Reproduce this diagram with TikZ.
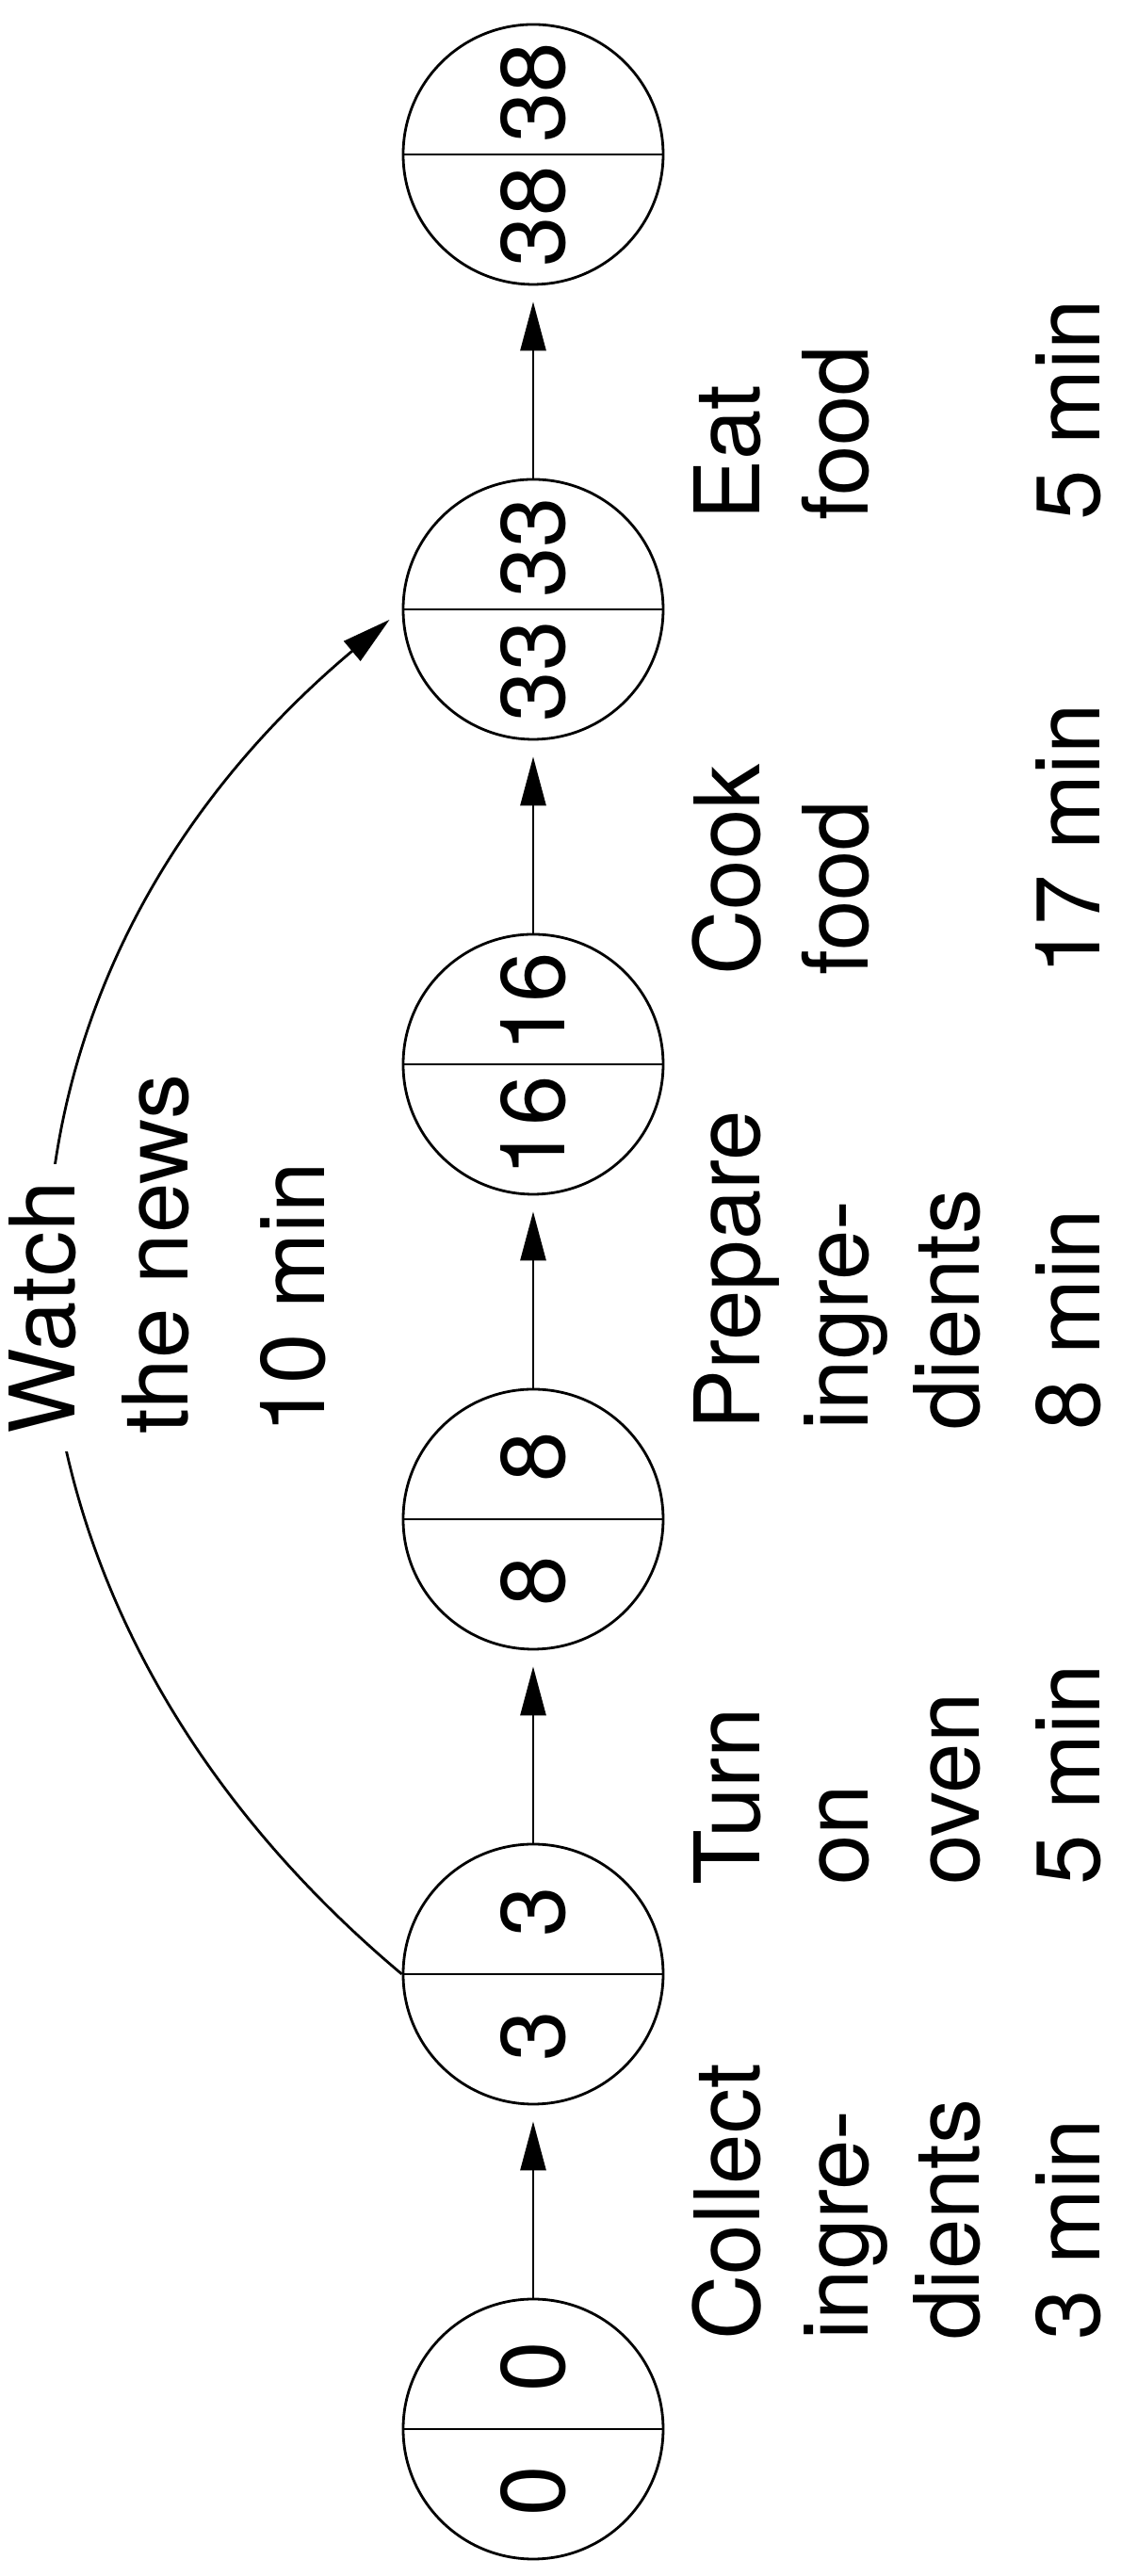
\documentclass[tikz,border=0pt]{standalone}
\usepackage{fontspec}
\setmainfont{TeX Gyre Heros}
\usetikzlibrary{arrows.meta,positioning}
\newcommand{\evt}[2]{\makebox[66pt]{\makebox[0pt]{#1}\hfill\makebox[0pt]{#2}}}

\begin{document}
\begin{tikzpicture}[rotate=90,transform shape,
node distance=241.5pt,on grid,
every node/.style={font=\fontsize{48}{58.5}\selectfont},
circ/.style={circle,draw,line width=1.4pt,minimum size=138pt,inner sep=0pt},
lbl/.style={anchor=base west,inner sep=0pt},
arr/.style={-{Triangle[length=26pt,width=13.5pt]},line width=1.4pt,shorten >=8.5pt}]
\useasboundingbox (0,0) rectangle (1367.5pt,594.5pt);
% events
\node[circ] (n0) at (78pt,311.5pt) {\evt{0}{0}};
\node[circ,right=of n0] (n3) {\evt{3}{3}};
\node[circ,right=of n3] (n8) {\evt{8}{8}};
\node[circ,right=of n8] (n16) {\evt{16}{16}};
\node[circ,right=of n16] (n33) {\evt{33}{33}};
\node[circ,right=of n33] (n38) {\evt{38}{38}};
\foreach \n in {n0,n3,n8,n16,n33,n38}
  \draw[line width=1.4pt] (\n.north) -- (\n.south);
% activities
\draw[arr] (n0) -- (n3);
\draw[arr] (n3) -- (n8);
\draw[arr] (n8) -- (n16);
\draw[arr] (n16) -- (n33);
\draw[arr] (n33) -- (n38);
\foreach \x/\a/\b/\c/\d [count=\i] in {125pt/Collect/ingre-/dients/3 min,
  366.5pt/Turn/on/oven/5 min, 608pt/Prepare/ingre-/dients/8 min,
  849.5pt/Cook/food//17 min, 1091pt/Eat/food//5 min}{
  \node[lbl] (a\i) at (\x,191pt) {\a};
  \node[lbl] (b\i) at (\x,133.5pt) {\b};
  \node[lbl] (c\i) at (\x,74.5pt) {\c};
  \node[lbl] (d\i) at (\x,11pt) {\d};
}
% parallel activity
\draw[arr] (n3.north) to[out=50,in=130,looseness=1.14] (n33.north);
\node[lbl,fill=white,inner sep=9pt] (watch) at (597pt,554.5pt) {Watch};
\node[lbl] (news) at (606pt,494.5pt) {the news};
\node[lbl] (tnews) at (606pt,422pt) {10 min};
\end{tikzpicture}
\end{document}
